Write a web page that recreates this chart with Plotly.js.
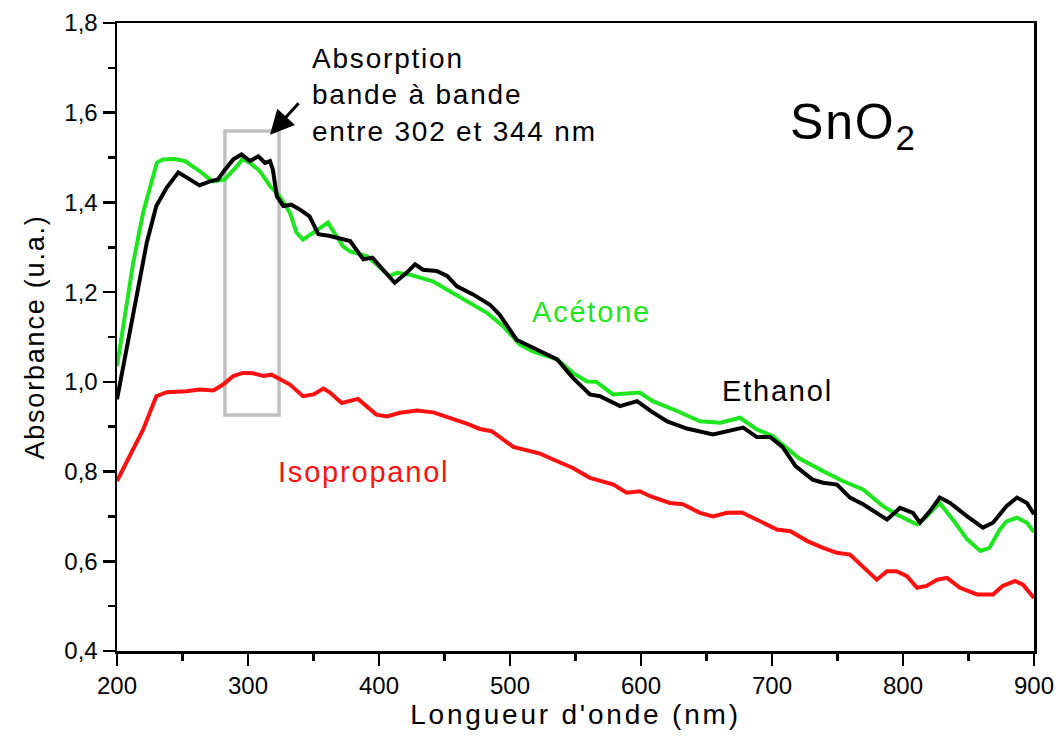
<!DOCTYPE html>
<html>
<head>
<meta charset="utf-8">
<script src="https://cdn.plot.ly/plotly-3.0.1.min.js"></script>
<style>
  html, body { margin: 0; padding: 0; background: #fff; }
  #chart { width: 1057px; height: 749px; }
  text.annotation-text { letter-spacing: 1.8px; }
  text.xtitle { letter-spacing: 2.8px; }
  text.ytitle { letter-spacing: 1.8px; }
</style>
</head>
<body>
<div id="chart"></div>
<script>
// Acétone (green)
const acetoneX = [200, 212.4, 220, 225, 230.5, 235, 244, 252, 263, 273, 282, 291.6, 296, 301.5, 309, 317, 324, 332, 337, 342, 349.6, 357, 361, 372.5, 378, 391, 408, 413.7, 423.7, 441, 454, 467, 482.4, 494.7, 507.6, 517.6, 536, 548, 558.8, 566, 578.6, 599, 609, 627.5, 645, 660.6, 675.6, 688.5, 700.8, 708, 721, 739, 754, 769.5, 784.7, 795.4, 810.7, 818, 828, 838, 849, 859, 866, 874, 879, 887, 894.6, 900];
const acetoneY = [1.035, 1.266, 1.378, 1.433, 1.489, 1.496, 1.497, 1.492, 1.470, 1.447, 1.451, 1.481, 1.497, 1.488, 1.47, 1.436, 1.414, 1.377, 1.333, 1.317, 1.332, 1.347, 1.355, 1.302, 1.291, 1.28, 1.236, 1.243, 1.239, 1.224, 1.202, 1.18, 1.154, 1.124, 1.083, 1.068, 1.05, 1.02, 1.001, 1.0, 0.972, 0.976, 0.957, 0.935, 0.912, 0.909, 0.920, 0.894, 0.879, 0.86, 0.829, 0.801, 0.779, 0.76, 0.723, 0.704, 0.682, 0.70, 0.73, 0.693, 0.649, 0.623, 0.63, 0.671, 0.689, 0.697, 0.686, 0.665];

// Ethanol (black)
const ethanolX = [200, 207, 215, 222.7, 230, 238, 246.8, 255.7, 263, 271, 277, 282.4, 288.8, 295, 301.5, 307.9, 313, 316.8, 319, 322, 327, 333, 339.7, 347, 353.7, 362.6, 378, 388, 395, 403, 412, 421, 427.5, 433.6, 444, 452, 459.5, 471.8, 484.7, 492, 497.7, 505, 517.6, 536, 548, 561, 568.7, 584, 597, 607, 620, 635, 655, 678, 688.5, 698.5, 708, 718, 731, 739, 749.6, 759.5, 769.5, 787.8, 797.7, 807.6, 813, 820.6, 828, 836, 849, 861, 868.7, 879, 887, 894.6, 900];
const ethanolY = [0.961, 1.072, 1.191, 1.31, 1.392, 1.433, 1.467, 1.451, 1.438, 1.447, 1.451, 1.473, 1.496, 1.507, 1.492, 1.503, 1.488, 1.492, 1.473, 1.414, 1.392, 1.395, 1.384, 1.369, 1.329, 1.325, 1.314, 1.273, 1.277, 1.25, 1.221, 1.243, 1.262, 1.25, 1.247, 1.236, 1.213, 1.195, 1.172, 1.15, 1.124, 1.094, 1.076, 1.05, 1.009, 0.972, 0.968, 0.946, 0.957, 0.936, 0.912, 0.896, 0.883, 0.898, 0.877, 0.877, 0.855, 0.812, 0.782, 0.775, 0.771, 0.742, 0.727, 0.693, 0.719, 0.708, 0.686, 0.712, 0.742, 0.73, 0.70, 0.675, 0.686, 0.723, 0.742, 0.73, 0.705];

// Isopropanol (red)
const isoX = [200, 212.4, 220, 230, 238, 253, 263, 273.5, 281, 288.8, 296, 304, 311.7, 318, 324.4, 332, 342, 350, 357.5, 362.6, 371.5, 384, 398, 406, 416, 428.8, 441.5, 454, 467, 477, 486, 502.5, 523, 533, 548, 561, 579, 589, 599, 607, 622, 632, 645, 655, 665.6, 677, 690.8, 703.8, 714, 727, 739, 749.6, 759.5, 769.5, 780, 787.8, 795, 803, 810.7, 818, 826, 833.6, 843.5, 856.5, 868.7, 876, 885.5, 891.6, 900];
const isoY = [0.779, 0.849, 0.894, 0.968, 0.977, 0.979, 0.983, 0.981, 0.994, 1.013, 1.020, 1.019, 1.013, 1.016, 1.005, 0.994, 0.968, 0.972, 0.985, 0.976, 0.953, 0.962, 0.927, 0.923, 0.931, 0.936, 0.932, 0.920, 0.907, 0.895, 0.890, 0.855, 0.840, 0.827, 0.808, 0.786, 0.771, 0.753, 0.756, 0.745, 0.73, 0.727, 0.708, 0.70, 0.708, 0.709, 0.689, 0.671, 0.667, 0.645, 0.630, 0.619, 0.615, 0.589, 0.559, 0.578, 0.578, 0.567, 0.541, 0.545, 0.559, 0.563, 0.541, 0.526, 0.526, 0.545, 0.556, 0.548, 0.518];

// Highlighted band box (nm / absorbance)
const boxX = [282.4, 323.7];
const boxY = [0.926, 1.559];

const FONT = 'Arial, Liberation Sans, Helvetica, sans-serif';

const traces = [
  { x: acetoneX, y: acetoneY, mode: 'lines', name: 'Acétone', line: { color: '#1ee61e', width: 4 } },
  { x: ethanolX, y: ethanolY, mode: 'lines', name: 'Ethanol', line: { color: '#000000', width: 4 } },
  { x: isoX, y: isoY, mode: 'lines', name: 'Isopropanol', line: { color: '#ff1010', width: 4 } }
];

const axisCommon = {
  showgrid: false, zeroline: false, showline: true, linecolor: '#000', linewidth: 2.5,
  mirror: true, ticks: 'outside', ticklen: 12, tickwidth: 2.5, tickcolor: '#000',
  tickfont: { family: FONT, size: 24, color: '#000' }
};

const layout = {
  width: 1057, height: 749,
  margin: { l: 117, r: 23, t: 23, b: 98, pad: 0 },
  paper_bgcolor: '#fff', plot_bgcolor: '#fff',
  showlegend: false,
  separators: ',.',
  font: { family: FONT, color: '#000' },
  xaxis: Object.assign({}, axisCommon, {
    range: [200, 900], dtick: 100, tick0: 200,
    minor: { dtick: 50, ticks: 'outside', ticklen: 7, tickwidth: 2.5, tickcolor: '#000', showgrid: false },
    title: { text: "Longueur d'onde (nm)", font: { family: FONT, size: 28, color: '#000' }, standoff: 3 }
  }),
  yaxis: Object.assign({}, axisCommon, {
    range: [0.4, 1.8], dtick: 0.2, tick0: 0.4, tickformat: '.1f',
    minor: { dtick: 0.1, ticks: 'outside', ticklen: 7, tickwidth: 2.5, tickcolor: '#000', showgrid: false },
    title: { text: 'Absorbance (u.a.)', font: { family: FONT, size: 27, color: '#000' }, standoff: 12 }
  }),
  shapes: [
    { type: 'rect', xref: 'x', yref: 'y', x0: boxX[0], x1: boxX[1], y0: boxY[0], y1: boxY[1],
      line: { color: '#c0c0c0', width: 3.5 }, fillcolor: 'rgba(0,0,0,0)', layer: 'below' }
  ],
  annotations: [
    { xref: 'x', yref: 'y', x: 316.8, y: 1.551, ax: 30, ay: -33, text: '', showarrow: true,
      arrowhead: 2, arrowsize: 1.6, arrowwidth: 3, arrowcolor: '#000' },
    { xref: 'x', yref: 'y', x: 347, y: 1.64, text: 'Absorption<br>bande à bande<br>entre 302 et 344 nm',
      showarrow: false, xanchor: 'left', yanchor: 'middle', align: 'left',
      font: { family: FONT, size: 28, color: '#000' } },
    { xref: 'x', yref: 'y', x: 712, y: 1.572, text: 'SnO<sub>2</sub>', showarrow: false,
      xanchor: 'left', yanchor: 'middle', font: { family: FONT, size: 50, color: '#000' } },
    { xref: 'x', yref: 'y', x: 515.5, y: 1.155, text: 'Acétone', showarrow: false,
      xanchor: 'left', yanchor: 'middle', font: { family: FONT, size: 29, color: '#1ee61e' } },
    { xref: 'x', yref: 'y', x: 660, y: 0.979, text: 'Ethanol', showarrow: false,
      xanchor: 'left', yanchor: 'middle', font: { family: FONT, size: 29, color: '#000' } },
    { xref: 'x', yref: 'y', x: 321, y: 0.80, text: 'Isopropanol', showarrow: false,
      xanchor: 'left', yanchor: 'middle', font: { family: FONT, size: 29, color: '#ff1010' } }
  ]
};

Plotly.newPlot('chart', traces, layout, { displayModeBar: false, staticPlot: true });
</script>
</body>
</html>
